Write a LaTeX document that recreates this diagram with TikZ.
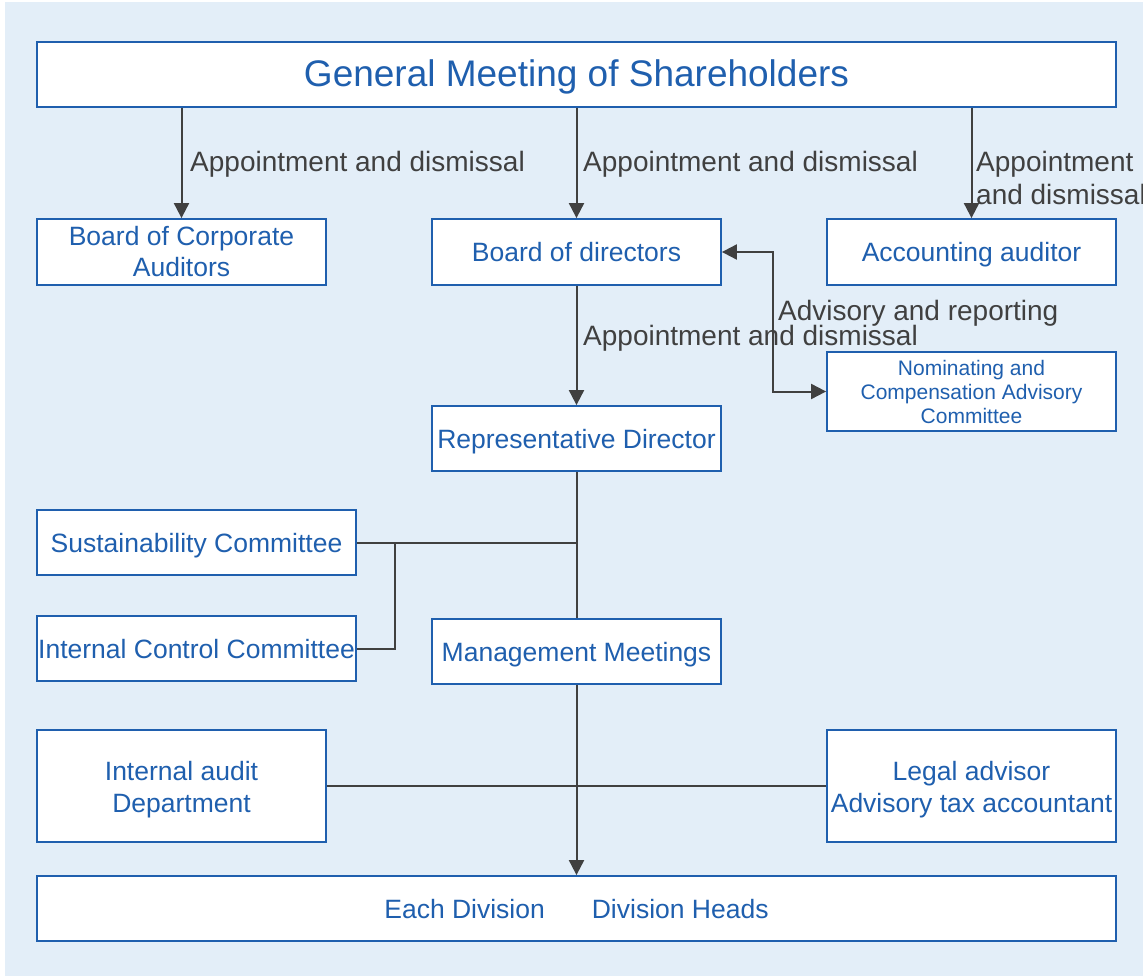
\documentclass[tikz,border=0pt]{standalone}
\usepackage{fontspec}
\setmainfont{Liberation Sans}
\usetikzlibrary{arrows.meta,calc}
\definecolor{bgblue}{HTML}{E3EEF8}
\definecolor{boxblue}{HTML}{1F5FAE}
\definecolor{linegray}{HTML}{404040}
\newcommand{\bt}[2][3.5pt]{\raisebox{-#1}[\height][\depth]{\begin{tabular}{@{}c@{}}#2\end{tabular}}}
\newcommand{\lt}[1]{\begin{tabular}[t]{@{}l@{}}#1\end{tabular}}
\tikzset{
  orgbox/.style={draw=boxblue, line width=1.8pt, fill=white, text=boxblue, inner sep=0pt, font=\fontsize{26.5}{31}\selectfont},
  lbl/.style={text=linegray, inner sep=0pt, anchor=base west, font=\fontsize{28}{32.6}\selectfont},
  conn/.style={draw=linegray, line width=2pt},
  arr/.style={conn, -{Triangle[length=15pt,width=15pt]}},
  arrboth/.style={conn, {Triangle[length=15pt,width=15pt]}-{Triangle[length=15pt,width=15pt]}}
}
\begin{document}
\begin{tikzpicture}[x=1pt,y=-1pt]
\useasboundingbox (0,0) rectangle (1143,976);
\fill[bgblue] (5,2) rectangle (1143,976);

\node[orgbox, minimum width=1079pt, minimum height=65pt, font=\fontsize{37}{44}\selectfont] (gms) at (576.5,74.5) {\bt{General Meeting of Shareholders}};
\node[orgbox, minimum width=289pt, minimum height=66pt] (bca) at (181.5,252) {\bt[3.1pt]{Board of Corporate\\Auditors}};
\node[orgbox, minimum width=289pt, minimum height=66pt] (bod) at (576.5,252) {\bt{Board of directors}};
\node[orgbox, minimum width=289pt, minimum height=66pt] (aa) at (971.5,252) {\bt{Accounting auditor}};
\node[orgbox, minimum width=289pt, minimum height=79pt, font=\fontsize{21}{24.2}\selectfont] (nom) at (971.5,391.5) {\bt[3pt]{Nominating and\\Compensation Advisory\\Committee}};
\node[orgbox, minimum width=289pt, minimum height=65pt] (rep) at (576.5,438.5) {\bt{Representative Director}};
\node[orgbox, minimum width=319pt, minimum height=65pt] (sus) at (196.5,542.5) {\bt{Sustainability Committee}};
\node[orgbox, minimum width=319pt, minimum height=65pt] (icc) at (196.5,648.5) {\bt{Internal Control Committee}};
\node[orgbox, minimum width=289pt, minimum height=65pt] (mm) at (576.5,651.5) {\bt{Management Meetings}};
\node[orgbox, minimum width=289pt, minimum height=112pt, font=\fontsize{26.5}{31.6}\selectfont] (iad) at (181.5,786) {\bt[4.2pt]{Internal audit\\Department}};
\node[orgbox, minimum width=289pt, minimum height=112pt, font=\fontsize{26.5}{31.6}\selectfont] (legal) at (971.5,786) {\bt[4.2pt]{Legal advisor\\Advisory tax accountant}};
\node[orgbox, minimum width=1079pt, minimum height=65pt] (div) at (576.5,908.5) {\bt{Each Division\hspace{47pt}Division Heads}};

% appointment arrows
\draw[arr] (gms.south -| bca.north) -- (bca.north);
\node[lbl] (l1) at (190,171.7) {Appointment and dismissal};
\draw[arr] (gms.south) -- (bod.north);
\node[lbl] (l2) at (583,171.7) {Appointment and dismissal};
\draw[arr] (gms.south -| aa.north) -- (aa.north);
\node[lbl] (l3) at (976,171.7) {\lt{Appointment\\and dismissal}};
\draw[arr] (bod.south) -- (rep.north);
\node[lbl] (l4) at (583,345) {Appointment and dismissal};

% advisory
\coordinate (advx) at (773,0);
\draw[arrboth] (bod.east) -- (bod.east -| advx) -- (nom.west -| advx) -- (nom.west);
\node[lbl] (l5) at (778,320) {Advisory and reporting};

% rep -> management
\draw[conn] (rep.south) -- (mm.north);
\coordinate (brx) at (395,0);
\draw[conn] (sus.east) -- (sus.east -| rep.south);
\draw[conn] (sus.east) -- (sus.east -| brx) -- (icc.east -| brx) -- (icc.east);

% management -> divisions
\draw[arr] (mm.south) -- (div.north);
\draw[conn] (iad.east) -- (legal.west);
\end{tikzpicture}
\end{document}
